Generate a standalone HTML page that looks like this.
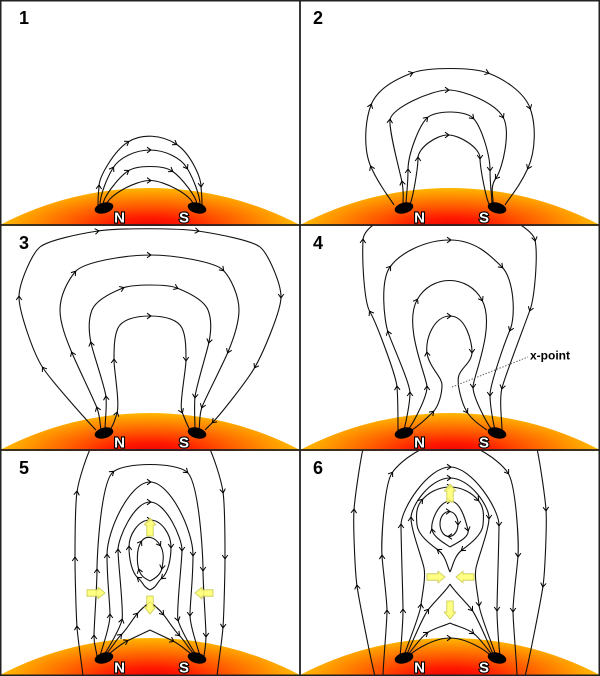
<!DOCTYPE html>
<html><head><meta charset="utf-8"><style>html,body{margin:0;padding:0;background:#fff}svg{display:block}</style></head><body>
<svg xmlns="http://www.w3.org/2000/svg" width="600" height="676" viewBox="0 0 600 676" font-family="'Liberation Sans', sans-serif">
<defs>
<radialGradient id="sg" gradientUnits="userSpaceOnUse" cx="150" cy="228" r="155" gradientTransform="translate(150 228) scale(1 0.27) translate(-150 -228)">
<stop offset="0" stop-color="#e80000"/><stop offset="0.25" stop-color="#ff1a00"/><stop offset="0.5" stop-color="#ff5500"/><stop offset="0.75" stop-color="#ff8c00"/><stop offset="0.92" stop-color="#ffb000"/><stop offset="1" stop-color="#ffc400"/>
</radialGradient>
<clipPath id="cp"><rect x="0" y="0" width="300" height="226"/></clipPath>
<marker id="m" viewBox="-5 -5 10 10" refX="0" refY="0" markerWidth="10" markerHeight="10" markerUnits="userSpaceOnUse" orient="auto"><path d="M-3,-2.8 L1,0 L-3,2.8" fill="none" stroke="#000" stroke-width="1"/></marker>
<path id="ya" d="M-9,-3.2 L2,-3.2 L2,-5.8 L9,0 L2,5.8 L2,3.2 L-9,3.2 Z" fill="#ffff73" fill-opacity="0.9" stroke="#c8c84a" stroke-width="0.8"/>
<path id="sun" d="M0,225 A322.6,322.6 0 0 1 300,225 L300,228 L0,228 Z" fill="url(#sg)"/>
<g id="spots"><ellipse cx="104" cy="208" rx="9.5" ry="5.3" transform="rotate(-15 104 208)" fill="#000"/><ellipse cx="197" cy="208" rx="9.5" ry="5.3" transform="rotate(15 197 208)" fill="#000"/></g>
</defs>
<rect width="600" height="676" fill="#fff"/>

<!-- Panel 1 -->
<g transform="translate(0,0)" clip-path="url(#cp)">
<use href="#sun"/>
<g fill="none" stroke="#111" stroke-width="1.1" marker-mid="url(#m)">
<path d="M98,205 C98,193 98.5,196 99,186 S114,151 128,142 S162,135 176,144 S200.5,176 201,186 S202,193 202,205"/>
<path d="M100,205 C100,195 107,178 113,168 S135,150 150,150 S181,158 187,168 S200,195 200,205"/>
<path d="M103,205 C103,197 119,177 128,171 S163,165 172,171 S197,197 197,205"/>
<path d="M107,204 C108,196 135,180.5 150,180.5 S192,196 193,204"/>
</g>
<use href="#spots"/>
<text x="119.5" y="222.5" text-anchor="middle" font-size="15" font-weight="bold" fill="#fff" stroke="#000" stroke-width="2.2" paint-order="stroke">N</text>
<text x="184" y="222.5" text-anchor="middle" font-size="15" font-weight="bold" fill="#fff" stroke="#000" stroke-width="2.2" paint-order="stroke">S</text>
<text x="19" y="24" font-size="18" font-weight="bold" fill="#000">1</text>
</g>

<!-- Panel 2 -->
<g transform="translate(300,0)" clip-path="url(#cp)">
<use href="#sun"/>
<g fill="none" stroke="#111" stroke-width="1.1" marker-mid="url(#m)">
<path d="M94,205 C89,197 79,185 71,167 S65,121 71,105 S96,79 112,73 S172,67 188,73 S224,92 230,108 S236,150 228,168 S210,197 205,205"/>
<path d="M103,205 C103,199 104,192 102,182 S89,132 90,120 S132,90 148,90 S195,103 203,117 S203,168 196,178 S194,197 193,205"/>
<path d="M106,205 C106,197 108,186 108,170 S119,126 127,118 S165,110 173,118 S190,154 190,170 S192,197 192,205"/>
<path d="M110,204 C113,198 118,168 118,158 S136,135 148,135 S180,148 180,158 S186,198 189,204"/>
</g>
<use href="#spots"/>
<text x="119.5" y="222.5" text-anchor="middle" font-size="15" font-weight="bold" fill="#fff" stroke="#000" stroke-width="2.2" paint-order="stroke">N</text>
<text x="184" y="222.5" text-anchor="middle" font-size="15" font-weight="bold" fill="#fff" stroke="#000" stroke-width="2.2" paint-order="stroke">S</text>
<text x="13" y="24" font-size="18" font-weight="bold" fill="#000">2</text>
</g>

<!-- Panel 3 -->
<g transform="translate(0,225)" clip-path="url(#cp)">
<use href="#sun"/>
<g fill="none" stroke="#111" stroke-width="1.1" marker-mid="url(#m)">
<path d="M96,205 C90,199 53,158 43,143 S19,86 19,72 S32,28.5 40,22"/>
<path d="M40,22 C48,15.5 78,9 98,6 S178,3 198,6 S252,15.5 260,22"/>
<path d="M260,22 C268,28.5 281,58 281,72 S263,128 255,142 S220,190 213,197 S209,201 205,205"/>
<path d="M101,205 C100,199 100,191 97,183 S77,140 72,128 S60,99 60,85"/>
<path d="M60,85 C60,71 67,57 75,47 S125,30 150,30 S215,37 223,45 S239,71 239,85"/>
<path d="M239,85 C239,99 233,115 228,127 S205,174 202,182 S200,199 199,205"/>
<path d="M105,205 C105,197 107,182 106,172 S93,128 91,118 S88,95 92,85"/>
<path d="M92,85 C96,75 113,67 123,63 S167,59 177,63 S204,75 208,85"/>
<path d="M208,85 C212,95 211,107 209,117 S196,162 195,172 S195,197 195,205"/>
<path d="M110,205 C113,200 114,198 117,188 S114,145 114,135 S114,111 118,103"/>
<path d="M118,103 C122,95 134,91 150,91 S178,95 182,103"/>
<path d="M182,103 C186,111 186,125 186,135 S179,180 182,187 S187,200 190,205"/>
</g>
<use href="#spots"/>
<text x="119.5" y="222.5" text-anchor="middle" font-size="15" font-weight="bold" fill="#fff" stroke="#000" stroke-width="2.2" paint-order="stroke">N</text>
<text x="184" y="222.5" text-anchor="middle" font-size="15" font-weight="bold" fill="#fff" stroke="#000" stroke-width="2.2" paint-order="stroke">S</text>
<text x="19" y="24" font-size="18" font-weight="bold" fill="#000">3</text>
</g>

<!-- Panel 4 -->
<g transform="translate(300,225)" clip-path="url(#cp)">
<use href="#sun"/>
<g fill="none" stroke="#111" stroke-width="1.1" marker-mid="url(#m)">
<path d="M98,205 C98,197 98,174 97,162 S76,97 70,87 S62,35 63,15 S115,-22 150,-22 S232,1 235,15 S235,71 230,85 S205,151 202,163 S202,197 202,205"/>
<path d="M104,205 C106,197 110,178 110,168 S92,119 88,107 S80,56 90,42 S125,15 150,15 S190,30 202,42 S216,91 210,105 S190,160 190,170 S193,197 195,205"/>
<path d="M108,205 C114,197 127,172 127,162 S103,101 117,75 S168,49 182,75 S173,152 173,162 S186,197 192,205"/>
<path d="M112,205 C118,201 127,193 133,187 S142,168 142,160"/>
<path d="M142,160 C142,152 129,142 127,128 S134,91 150,91 S172,117 172,127 S162,142 159,150"/>
<path d="M159,150 C156,158 162,179 167,187 S181,201 187,205"/>
</g>
<line x1="152" y1="162" x2="228" y2="132" stroke="#666" stroke-width="1" stroke-dasharray="1.5 1.5"/>
<text x="230" y="134.5" font-size="12" font-weight="bold" fill="#000">x-point</text>
<use href="#spots"/>
<text x="119.5" y="222.5" text-anchor="middle" font-size="15" font-weight="bold" fill="#fff" stroke="#000" stroke-width="2.2" paint-order="stroke">N</text>
<text x="184" y="222.5" text-anchor="middle" font-size="15" font-weight="bold" fill="#fff" stroke="#000" stroke-width="2.2" paint-order="stroke">S</text>
<text x="13" y="24" font-size="18" font-weight="bold" fill="#000">4</text>
</g>

<!-- Panel 5 -->
<g transform="translate(0,450)" clip-path="url(#cp)">
<use href="#sun"/>
<g fill="none" stroke="#111" stroke-width="1.1" marker-mid="url(#m)">
<path d="M83,226 C82,216 78,191 77,177 S75,122 75,108 S75,56 77,42 S87,5 92,-5"/>
<path d="M208,-5 C213,5 221,28 223,42 S225,94 225,108 S224,163 223,177 S218,216 217,226"/>
<path d="M97,206 C96,198 94,196 94,186 S97,136 97,120 S101,32 113,22 S175,12 187,22 S203,104 203,120 S206,176 206,186 S205,198 204,206"/>
<path d="M100,206 C102,198 110,177 110,165 S107,130 107,105 S130,32 150,32 S193,80 193,105 S190,153 190,165 S198,198 200,206"/>
<path d="M103,206 C109,198 120,178 122,170 S118,112 118,100 S134,52 150,52 S182,88 182,100 S176,162 178,170 S191,198 197,206"/>
<path d="M150,140 C142,136 144,133 138,128 S129,109 129,97 S138,70 150,70 S171,85 171,97 S168,123 162,128 S158,136 150,140"/>
<path d="M150,131 C144,128 141,126 139,120 S136,100 141,92 S155,87 160,95 S163,112 162,118 S156,128 150,131"/>
<path d="M104,206 C110,201 115,191 121,185 S132,170 137,164 S146,155 150,152"/>
<path d="M150,152 C154,155 158,158 163,164 S173,179 179,185 S190,201 196,206"/>
<path d="M106,206 C112,202 119,195 127,191 S144,183 150,180"/>
<path d="M150,180 C156,183 165,187 173,191 S188,202 194,206"/>
</g>
<use href="#ya" transform="translate(150,77) rotate(-90)"/>
<use href="#ya" transform="translate(96,143)"/>
<use href="#ya" transform="translate(204,143) rotate(180)"/>
<use href="#ya" transform="translate(150,155) rotate(90)"/>
<use href="#spots"/>
<text x="119.5" y="222.5" text-anchor="middle" font-size="15" font-weight="bold" fill="#fff" stroke="#000" stroke-width="2.2" paint-order="stroke">N</text>
<text x="184" y="222.5" text-anchor="middle" font-size="15" font-weight="bold" fill="#fff" stroke="#000" stroke-width="2.2" paint-order="stroke">S</text>
<text x="19" y="24" font-size="18" font-weight="bold" fill="#000">5</text>
</g>

<!-- Panel 6 -->
<g transform="translate(300,450)" clip-path="url(#cp)">
<use href="#sun"/>
<g fill="none" stroke="#111" stroke-width="1.1" marker-mid="url(#m)">
<path d="M75,226 C72,216 59,150 57,136 S53,74 54,60 S61,5 64,-5"/>
<path d="M236,-5 C239,5 245,46 246,60 S245,122 243,136 S228,216 225,226"/>
<path d="M83,226 C83,216 87,173 87,161 S83,120 82,106 S84,35 92,23 S125,-8 150,-8 S200,11 208,23 S219,92 218,106 S213,149 213,161 S217,216 217,226"/>
<path d="M100,206 C101,198 103,172 103,160 S101,91 101,75 S128,17 150,17 S199,59 199,75 S197,148 197,160 S199,198 200,206"/>
<path d="M104,206 C107,196 120,165 121,155 S126,128 124,118"/>
<path d="M124,118 C122,108 111,80 111,68 S130,28 150,28 S189,56 189,68 S178,108 176,118"/>
<path d="M176,118 C174,128 178,145 179,155 S193,196 196,206"/>
<path d="M150,122 C147,116 146,106 138,100 S118,85 117,75"/>
<path d="M117,75 C116,65 116,57 122,50 S138,37 150,37 S172,43 178,50 S184,65 183,75"/>
<path d="M183,75 C182,85 170,94 162,100 S153,116 150,122"/>
<path d="M150,97 C146,94 134,88 132,80 S139,51 150,51 S166,72 168,80 S154,94 150,97"/>
<path d="M140,74 C140,67 144,61.5 149,61.5 S158,67 158,74 S154,86.5 149,86.5 S140,81 140,74"/>
<path d="M106,206 C110,198 122,168 128,160 S147,140 150,134"/>
<path d="M150,134 C153,140 166,152 172,160 S190,198 194,206"/>
<path d="M107,206 C112,200 120,188 127,183 S144,176 150,173"/>
<path d="M150,173 C156,176 166,178 173,183 S188,200 193,206"/>
<path d="M108,207 C115,199 135,188 150,188 S185,199 192,207"/>
</g>
<use href="#ya" transform="translate(150,43) rotate(-90)"/>
<use href="#ya" transform="translate(136,127)"/>
<use href="#ya" transform="translate(165,127) rotate(180)"/>
<use href="#ya" transform="translate(150,160) rotate(90)"/>
<use href="#spots"/>
<text x="119.5" y="222.5" text-anchor="middle" font-size="15" font-weight="bold" fill="#fff" stroke="#000" stroke-width="2.2" paint-order="stroke">N</text>
<text x="184" y="222.5" text-anchor="middle" font-size="15" font-weight="bold" fill="#fff" stroke="#000" stroke-width="2.2" paint-order="stroke">S</text>
<text x="13" y="24" font-size="18" font-weight="bold" fill="#000">6</text>
</g>

<!-- borders -->
<g stroke="#222" fill="none">
<rect x="0.75" y="0.75" width="598.5" height="674.5" stroke-width="1.5"/>
<line x1="300" y1="0" x2="300" y2="676" stroke-width="1.8"/>
<line x1="0" y1="225" x2="600" y2="225" stroke-width="1.8"/>
<line x1="0" y1="450" x2="600" y2="450" stroke-width="1.8"/>
</g>
</svg>
</body></html>
